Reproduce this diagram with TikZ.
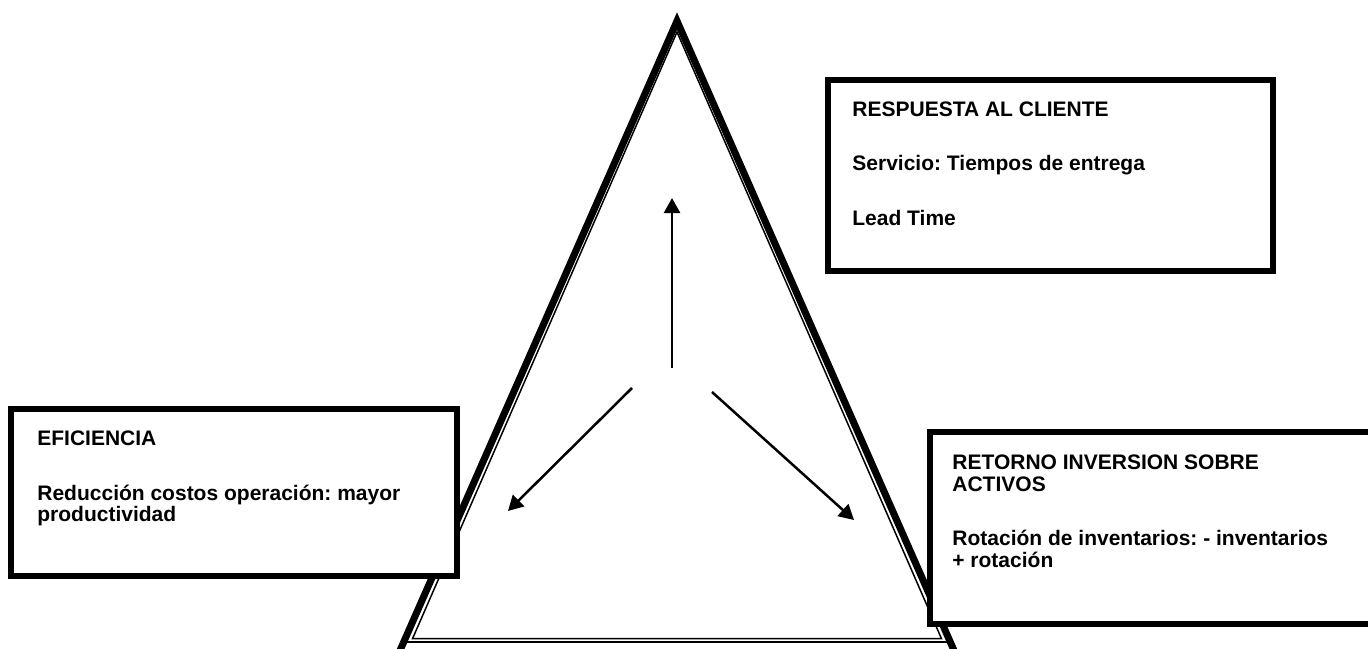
\documentclass[tikz,border=0pt]{standalone}
\usepackage{fontspec}
\setmainfont{Liberation Sans}
\usetikzlibrary{arrows.meta}
\frenchspacing
\tikzset{
  thickside/.style={line width=3.5pt, line join=miter},
  thinline/.style={line width=0.75pt},
  boxframe/.style={draw, fill=white, line width=3pt},
  boxtext/.style={anchor=north west, inner sep=0pt, align=left,
    font=\fontsize{10.5pt}{10.75pt}\selectfont\bfseries},
  arrowline/.style={line width=1.25pt, -{Triangle[length=7.5pt,width=8pt]}}
}
\begin{document}
\begin{tikzpicture}[x=0.5pt,y=-0.5pt]
\useasboundingbox (0,0) rectangle (1368,648);
% triangle
\coordinate (apex) at (677,21);
\coordinate (bl) at (391.4,670);
\coordinate (br) at (962.6,670);
\draw[thickside] (bl) -- (apex) -- (br);
\coordinate (obl) at (403.8,642);
\coordinate (obr) at (950.2,642);
\draw[thinline] (obl) -- (obr);
\coordinate (iapex) at (677,32);
\coordinate (ibl) at (412.6,638.5);
\coordinate (ibr) at (941.4,638.5);
\draw[thinline, line join=miter] (iapex) -- (ibl) -- (ibr) -- cycle;
% arrows
\coordinate (up0) at (672,368);
\coordinate (up1) at (672,198);
\coordinate (le0) at (632,388);
\coordinate (le1) at (508,511);
\coordinate (ri0) at (712,392);
\coordinate (ri1) at (854,520);
\draw[arrowline] (up0) -- (up1);
\draw[arrowline] (le0) -- (le1);
\draw[arrowline] (ri0) -- (ri1);
% boxes
\draw[boxframe] (828,80) rectangle (1273,271);
\node[boxtext] (resp) at (852,101) {RESPUESTA AL CLIENTE\\[16.5pt]Servicio: Tiempos de entrega\\[16.5pt]Lead Time};
\draw[boxframe] (11,409) rectangle (457,576);
\node[boxtext] (efic) at (37,430.5) {EFICIENCIA\\[16.5pt]Reducción costos operación: mayor\\productividad};
\draw[boxframe] (930,432) rectangle (1385,624);
\node[boxtext] (reto) at (952,454.5) {RETORNO INVERSION SOBRE\\ACTIVOS\\[16.5pt]Rotación de inventarios: - inventarios\\+ rotación};
\end{tikzpicture}
\end{document}
